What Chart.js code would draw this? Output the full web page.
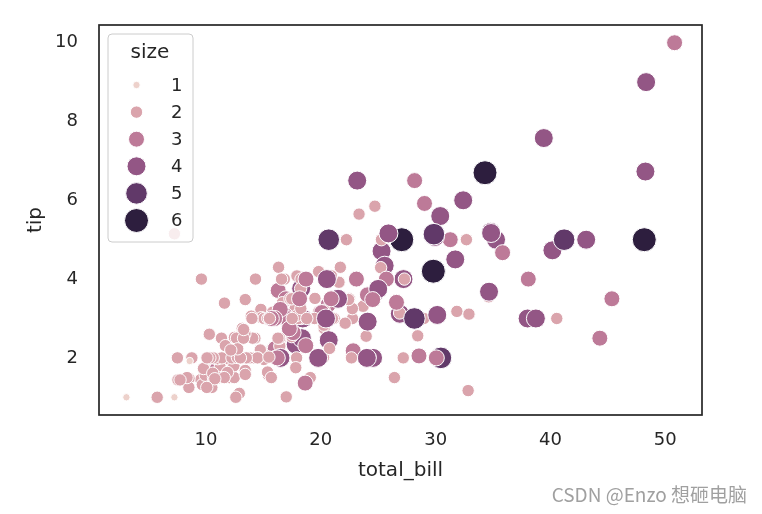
<!DOCTYPE html>
<html>
<head>
<meta charset="utf-8">
<script src="https://cdn.jsdelivr.net/npm/chart.js@4"></script>
<style>
  body { margin: 0; background: #fff; }
</style>
</head>
<body>
<canvas id="tipsChart" width="762" height="514"></canvas>
<script>
// tips dataset: total_bill, tip, size (party size)
var totalBill = [16.99,10.34,21.01,23.68,24.59,25.29,8.77,26.88,15.04,14.78,10.27,35.26,15.42,18.43,14.83,21.58,10.33,16.29,16.97,20.65,
  17.92,20.29,15.77,39.42,19.82,17.81,13.37,12.69,21.7,19.65,9.55,18.35,15.06,20.69,17.78,24.06,16.31,16.93,18.69,31.27,
  16.04,17.46,13.94,9.68,30.4,18.29,22.23,32.4,28.55,18.04,12.54,10.29,34.81,9.94,25.56,19.49,38.01,26.41,11.24,48.27,
  20.29,13.81,11.02,18.29,17.59,20.08,16.45,3.07,20.23,15.01,12.02,17.07,26.86,25.28,14.73,10.51,17.92,27.2,22.76,17.29,
  19.44,16.66,10.07,32.68,15.98,34.83,13.03,18.28,24.71,21.16,28.97,22.49,5.75,16.32,22.75,40.17,27.28,12.03,21.01,12.46,
  11.35,15.38,44.3,22.42,20.92,15.36,20.49,25.21,18.24,14.31,14.0,7.25,38.07,23.95,25.71,17.31,29.93,10.65,12.43,24.08,
  11.69,13.42,14.26,15.95,12.48,29.8,8.52,14.52,11.38,22.82,19.08,20.27,11.17,12.26,18.26,8.51,10.33,14.15,16.0,13.16,
  17.47,34.3,41.19,27.05,16.43,8.35,18.64,11.87,9.78,7.51,14.07,13.13,17.26,24.55,19.77,29.85,48.17,25.0,13.39,16.49,
  21.5,12.66,16.21,13.81,17.51,24.52,20.76,31.71,10.59,10.63,50.81,15.81,7.25,31.85,16.82,32.9,17.89,14.48,9.6,34.63,
  34.65,23.33,45.35,23.17,40.55,20.69,20.9,30.46,18.15,23.1,15.69,19.81,28.44,15.48,16.58,7.56,10.34,43.11,13.0,13.51,
  18.71,12.74,13.0,16.4,20.53,16.47,26.59,38.73,24.27,12.76,30.06,25.89,48.33,13.27,28.17,12.9,28.15,11.59,7.74,30.14,
  12.16,13.42,8.58,15.98,13.42,16.27,10.09,20.45,13.28,22.12,24.01,15.69,11.61,10.77,15.53,10.07,12.6,32.83,35.83,29.03,
  27.18,22.67,17.82,18.78];
var tip = [1.01,1.66,3.5,3.31,3.61,4.71,2.0,3.12,1.96,3.23,1.71,5.0,1.57,3.0,3.02,3.92,1.67,3.71,3.5,3.35,
  4.08,2.75,2.23,7.58,3.18,2.34,2.0,2.0,4.3,3.0,1.45,2.5,3.0,2.45,3.27,3.6,2.0,3.07,2.31,5.0,
  2.24,2.54,3.06,1.32,5.6,3.0,5.0,6.0,2.05,3.0,2.5,2.6,5.2,1.56,4.34,3.51,3.0,1.5,1.76,6.73,
  3.21,2.0,1.98,3.76,2.64,3.15,2.47,1.0,2.01,2.09,1.97,3.0,3.14,5.0,2.2,1.25,3.08,4.0,3.0,2.71,
  3.0,3.4,1.83,5.0,2.03,5.17,2.0,4.0,5.85,3.0,3.0,3.5,1.0,4.3,3.25,4.73,4.0,1.5,3.0,1.5,
  2.5,3.0,2.5,3.48,4.08,1.64,4.06,4.29,3.76,4.0,3.0,1.0,4.0,2.55,4.0,3.5,5.07,1.5,1.8,2.92,
  2.31,1.68,2.5,2.0,2.52,4.2,1.48,2.0,2.0,2.18,1.5,2.83,1.5,2.0,3.25,1.25,2.0,2.0,2.0,2.75,
  3.5,6.7,5.0,5.0,2.3,1.5,1.36,1.63,1.73,2.0,2.5,2.0,2.74,2.0,2.0,5.14,5.0,3.75,2.61,2.0,
  3.5,2.5,2.0,2.0,3.0,3.48,2.24,4.5,1.61,2.0,10.0,3.16,5.15,3.18,4.0,3.11,2.0,2.0,4.0,3.55,
  3.68,5.65,3.5,6.5,3.0,5.0,3.5,2.0,3.5,4.0,1.5,4.19,2.56,2.02,4.0,1.44,2.0,5.0,2.0,2.0,
  4.0,2.01,2.0,2.5,4.0,3.23,3.41,3.0,2.03,2.23,2.0,5.16,9.0,2.5,6.5,1.1,3.0,1.5,1.44,3.09,
  2.2,3.48,1.92,3.0,1.58,2.5,2.0,3.0,2.72,2.88,2.0,3.0,3.39,1.47,3.0,1.25,1.0,1.17,4.67,5.92,
  2.0,2.0,1.75,3.0];
var size = [2,3,3,2,4,4,2,4,2,2,2,4,2,4,2,2,3,3,3,3,
  2,2,2,4,2,4,2,2,2,2,2,4,2,4,2,3,3,3,3,3,
  3,2,2,2,4,2,2,4,3,2,2,2,4,2,4,2,4,2,2,4,
  2,2,2,4,3,3,2,1,2,2,2,3,2,2,2,2,2,4,2,2,
  2,2,1,2,2,4,2,2,2,2,2,2,2,2,2,4,2,2,2,2,
  2,2,3,2,2,2,2,2,2,2,2,1,3,2,3,2,4,2,2,4,
  2,2,2,2,2,6,2,2,2,3,2,2,2,2,2,2,2,2,2,2,
  2,6,5,6,2,2,3,2,2,2,2,2,3,4,4,5,6,4,2,4,
  4,2,3,2,2,3,2,4,2,2,3,2,2,2,2,2,2,2,2,2,
  4,2,3,4,2,5,3,5,3,3,2,2,2,2,2,2,2,4,2,2,
  3,2,2,2,4,3,3,4,2,2,3,4,4,2,3,2,5,2,2,4,
  2,2,1,3,2,2,2,4,2,2,4,3,2,2,2,2,2,2,3,3,
  2,2,2,2];

var sizeLevels = [1, 2, 3, 4, 5, 6];
var xTickValues = [10, 20, 30, 40, 50];
var yTickValues = [2, 4, 6, 8, 10];

// look of the six size levels (cubehelix colours, radius in px)
var levelColors = ['#edd1cb', '#daa4ac', '#bd7a98', '#935685', '#613969', '#2d1e3e'];
var levelRadius = [3.7, 6.2, 8.0, 9.5, 10.8, 12.0];

var ink = '#262626';
Chart.defaults.font.family = "'DejaVu Sans', sans-serif";
Chart.defaults.color = ink;

var points = totalBill.map(function (x, i) {
  return { x: x, y: tip[i] };
});

var frameAndLegend = {
  id: 'frameAndLegend',
  afterDatasetsDraw: function (chart) {
    var ctx = chart.ctx;
    var a = chart.chartArea;
    ctx.save();
    ctx.strokeStyle = ink;
    ctx.lineWidth = 1.7;
    ctx.strokeRect(a.left, a.top, a.right - a.left, a.bottom - a.top);

    // legend box
    var bx = 108, by = 34, bw = 85, bh = 208, r = 4;
    ctx.beginPath();
    ctx.moveTo(bx + r, by);
    ctx.arcTo(bx + bw, by, bx + bw, by + bh, r);
    ctx.arcTo(bx + bw, by + bh, bx, by + bh, r);
    ctx.arcTo(bx, by + bh, bx, by, r);
    ctx.arcTo(bx, by, bx + bw, by, r);
    ctx.closePath();
    ctx.fillStyle = 'rgba(255,255,255,0.8)';
    ctx.fill();
    ctx.strokeStyle = '#cccccc';
    ctx.lineWidth = 1;
    ctx.stroke();

    ctx.fillStyle = ink;
    ctx.textBaseline = 'middle';
    ctx.textAlign = 'center';
    ctx.font = "20px 'DejaVu Sans'";
    ctx.fillText('size', 150, 53);

    ctx.font = "18px 'DejaVu Sans'";
    ctx.textAlign = 'left';
    sizeLevels.forEach(function (lv, i) {
      var cy = 85 + i * 27.1;
      ctx.beginPath();
      ctx.arc(136.5, cy, levelRadius[lv - 1], 0, Math.PI * 2);
      ctx.fillStyle = levelColors[lv - 1];
      ctx.fill();
      ctx.strokeStyle = '#ffffff';
      ctx.lineWidth = 1;
      ctx.stroke();
      ctx.fillStyle = ink;
      ctx.fillText(String(lv), 171, cy + 1);
    });
    ctx.restore();
  },
  afterDraw: function (chart) {
    var ctx = chart.ctx;
    ctx.save();
    ctx.font = "19px 'Noto Sans CJK SC'";
    ctx.fillStyle = '#a0a0a0';
    ctx.textAlign = 'right';
    ctx.textBaseline = 'middle';
    ctx.fillText('CSDN @Enzo 想砸电脑', 747, 495);
    ctx.restore();
  }
};

new Chart(document.getElementById('tipsChart'), {
  type: 'scatter',
  data: {
    datasets: [{
      data: points,
      pointRadius: size.map(function (s) { return levelRadius[s - 1]; }),
      pointHoverRadius: size.map(function (s) { return levelRadius[s - 1]; }),
      pointBackgroundColor: size.map(function (s) { return levelColors[s - 1]; }),
      pointBorderColor: '#ffffff',
      pointBorderWidth: 1
    }]
  },
  options: {
    responsive: false,
    animation: false,
    events: [],
    layout: { padding: { left: 0, top: 25, right: 60, bottom: 0 } },
    plugins: {
      legend: { display: false },
      tooltip: { enabled: false }
    },
    scales: {
      x: {
        type: 'linear',
        min: 0.683,
        max: 53.197,
        afterBuildTicks: function (s) {
          s.ticks = xTickValues.map(function (v) { return { value: v }; });
        },
        afterFit: function (s) {
          s.height = 99;
          s.paddingLeft = 0;
          s.paddingRight = 0;
        },
        grid: { display: false, drawTicks: false },
        border: { display: false },
        ticks: { font: { size: 18 }, color: ink, padding: 15 },
        title: { display: true, text: 'total_bill', font: { size: 20 }, color: ink, padding: { top: 0, bottom: 31 } }
      },
      y: {
        type: 'linear',
        min: 0.55,
        max: 10.45,
        afterBuildTicks: function (s) {
          s.ticks = yTickValues.map(function (v) { return { value: v }; });
        },
        afterFit: function (s) {
          s.width = 99;
          s.paddingTop = 0;
          s.paddingBottom = 0;
        },
        grid: { display: false, drawTicks: false },
        border: { display: false },
        ticks: { font: { size: 18 }, color: ink, padding: 21 },
        title: { display: true, text: 'tip', font: { size: 20 }, color: ink, padding: { top: 24, bottom: 0 } }
      }
    }
  },
  plugins: [frameAndLegend]
});
</script>
</body>
</html>
